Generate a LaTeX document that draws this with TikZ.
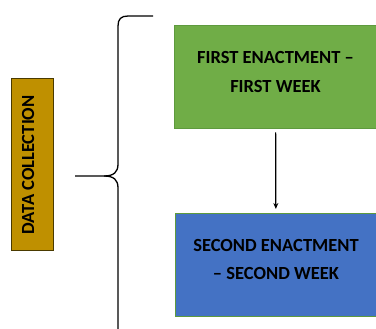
\documentclass[tikz,border=0pt]{standalone}
\usepackage{fontspec}
\setmainfont{Carlito}
\usepackage{xcolor}
\usetikzlibrary{arrows.meta}
\definecolor{collectgold}{HTML}{BF9000}
\definecolor{collectedge}{HTML}{4A3A00}
\definecolor{firstgreen}{HTML}{70AD47}
\definecolor{secondblue}{HTML}{4472C4}
\definecolor{stageedge}{HTML}{5E9A3E}

\begin{document}
\begin{tikzpicture}[x=1pt,y=-1pt,
    stagebox/.style={draw=stageedge,line width=1pt,minimum width=202pt,minimum height=103pt,
        align=center,inner sep=0pt,text depth=11pt,font=\fontsize{18.5}{28.7}\selectfont\bfseries},
    collectbox/.style={draw=collectedge,fill=collectgold,line width=1pt,rotate=90,
        minimum width=172pt,minimum height=42pt,inner sep=0pt,text depth=8pt,
        font=\fontsize{18.5}{22}\selectfont\bfseries}]
    \useasboundingbox (0,0) rectangle (376,329);
    \node[collectbox] (collect) at (32,165) {DATA COLLECTION};
    \node[stagebox,fill=firstgreen] (first) at (275.5,77.5) {FIRST ENACTMENT --\\FIRST WEEK};
    \node[stagebox,fill=secondblue] (second) at (276,265) {SECOND ENACTMENT\\-- SECOND WEEK};
    \coordinate (bracetop) at (153,16);
    \coordinate (bracetip) at (75,176);
    \draw[line width=1.3pt] (bracetop) -- (128,16) .. controls (121,16) and (118,19) .. (118,26)
        -- (118,164) .. controls (118,172) and (114,176) .. (104,176) -- (bracetip);
    \draw[line width=1.3pt] (104,176) .. controls (114,176) and (118,180) .. (118,188) -- (118,335);
    \draw[-{Stealth[length=6pt,width=5pt]},line width=1.2pt,shorten <=3pt,shorten >=4pt] (first) -- (second);
\end{tikzpicture}
\end{document}
